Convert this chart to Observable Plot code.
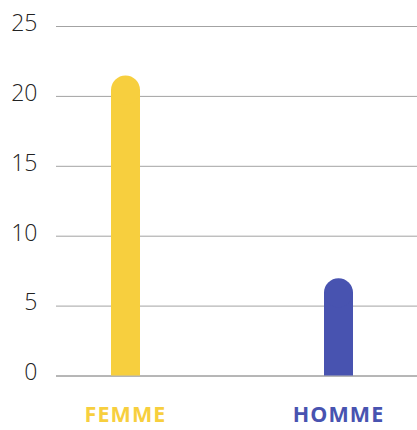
<!DOCTYPE html>
<html>
<head>
<meta charset="utf-8">
<script src="https://cdn.jsdelivr.net/npm/d3@7"></script>
<script src="https://cdn.jsdelivr.net/npm/@observablehq/plot@0.6"></script>
<style>
  html, body { margin: 0; padding: 0; background: #fff; }
  svg g[aria-label="text"] text { letter-spacing: 1.1px; }
</style>
</head>
<body>
<div id="chart"></div>
<script>
const categories = ["FEMME", "HOMME"];
const values = [21.5, 7];
const colors = ["#F7CF3E", "#4853B0"];
const yTicks = [0, 5, 10, 15, 20, 25];

const data = categories.map((c, i) => ({cat: c, value: values[i], color: colors[i]}));

const barW = 29;

const chart = Plot.plot({
  width: 417,
  height: 430,
  marginLeft: 56,
  marginRight: 0,
  marginTop: 26,
  marginBottom: 54.5,
  style: {fontFamily: "'Open Sans', sans-serif", background: "#fff"},
  x: {type: "point", domain: categories, range: [124.5, 337.5], padding: 0, axis: null},
  y: {domain: [0, 25], axis: null},
  marks: [
    Plot.ruleY(yTicks.filter(d => d !== 0), {stroke: "#a3a3a3", strokeWidth: 1}),
    Plot.ruleY([0], {stroke: "#6e6e6e", strokeWidth: 1}),
    Plot.axisY(yTicks, {
      label: null,
      tickSize: 0,
      tickPadding: 19,
      fontSize: 23,
      fontWeight: 300,
      fill: "#222",
      dy: -3
    }),
    Plot.ruleX(data, {
      x: "cat", y1: "value", y2: 0,
      stroke: d => d.color, strokeWidth: barW, strokeLinecap: "butt",
      insetTop: barW / 2
    }),
    Plot.dot(data, {
      x: "cat", y: "value", r: barW / 2, dy: barW / 2,
      fill: d => d.color
    }),
    Plot.text(data, {
      x: "cat", text: "cat", frameAnchor: "bottom",
      dy: 39, lineAnchor: "middle", textAnchor: "middle",
      fill: d => d.color, fontSize: 21.5, fontWeight: 700
    })
  ]
});

document.getElementById("chart").appendChild(chart);
</script>
</body>
</html>
